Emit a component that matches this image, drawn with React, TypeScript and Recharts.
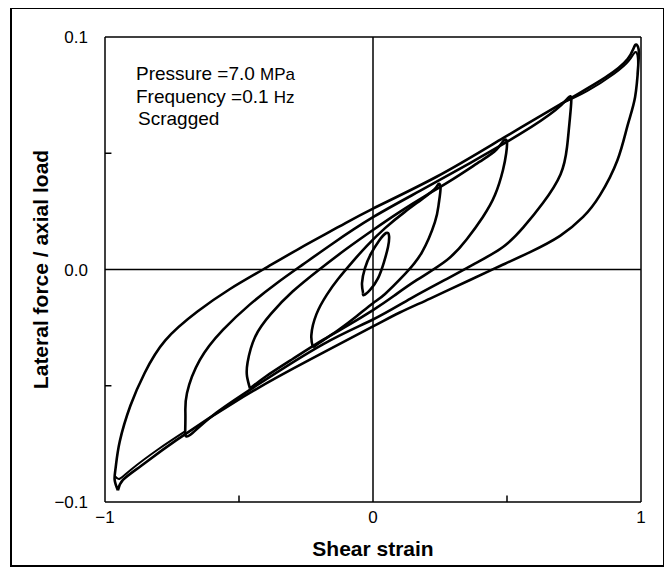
import React from "react";
import {
  LineChart,
  Line,
  XAxis,
  YAxis,
  ReferenceLine,
} from "recharts";

// hysteresis loops, [shear strain, lateral force / axial load]
const loop100: [number, number][] = [
  [-0.952, -0.095], [-0.964, -0.0905], [-0.96, -0.085], [-0.945, -0.074],
  [-0.905, -0.0585], [-0.852, -0.0445], [-0.775, -0.0305], [-0.655, -0.0181],
  [-0.535, -0.0085], [-0.41, 0.0], [-0.272, 0.0092], [-0.125, 0.0185],
  [0.0, 0.0262], [0.239, 0.04], [0.485, 0.0565], [0.735, 0.0735],
  [0.866, 0.0825], [0.95, 0.0905], [0.978, 0.0965], [0.991, 0.0948],
  [0.99, 0.088], [0.978, 0.0742], [0.95, 0.062], [0.912, 0.047],
  [0.847, 0.032], [0.784, 0.0226], [0.698, 0.0145], [0.586, 0.0075],
  [0.474, 0.0015], [0.362, -0.0045], [0.213, -0.0125], [0.1, -0.0185],
  [0.0, -0.0245], [-0.239, -0.039], [-0.485, -0.0548], [-0.735, -0.0735],
  [-0.866, -0.0845], [-0.933, -0.0905], [-0.952, -0.095],
];

// second cycle of the largest loop, seen near both tips
const loop100TopRepeat: [number, number][] = [
  [0.7, 0.0712], [0.8, 0.0768], [0.9, 0.0842], [0.955, 0.0898],
  [0.978, 0.0935], [0.988, 0.091], [0.988, 0.084],
];
const loop100BottomRepeat: [number, number][] = [
  [-0.7, -0.0695], [-0.8, -0.0772], [-0.9, -0.0858], [-0.945, -0.09],
  [-0.962, -0.089],
];

const loop75: [number, number][] = [
  [-0.701, -0.0708], [-0.7, -0.062], [-0.694, -0.0531], [-0.646, -0.0389],
  [-0.56, -0.026], [-0.459, -0.015], [-0.358, -0.0058], [-0.261, 0.0022],
  [-0.15, 0.0112], [0.0, 0.0225], [0.175, 0.0338], [0.362, 0.0458],
  [0.549, 0.0583], [0.68, 0.0685], [0.728, 0.0738], [0.74, 0.073],
  [0.733, 0.063], [0.724, 0.0527], [0.7, 0.041], [0.634, 0.0286],
  [0.56, 0.018], [0.485, 0.0097], [0.38, 0.0025], [0.276, -0.004],
  [0.14, -0.0125], [0.0, -0.0215], [-0.187, -0.0322], [-0.433, -0.0498],
  [-0.6, -0.063], [-0.683, -0.0712], [-0.701, -0.0708],
];

const loop50: [number, number][] = [
  [-0.459, -0.0512], [-0.47, -0.046], [-0.468, -0.04], [-0.44, -0.029],
  [-0.38, -0.019], [-0.3, -0.0095], [-0.2, 0.0], [-0.1, 0.0088],
  [0.0, 0.017], [0.1, 0.0248], [0.2, 0.032], [0.3, 0.039],
  [0.4, 0.0465], [0.46, 0.0515], [0.49, 0.0557], [0.5, 0.0545],
  [0.497, 0.05], [0.485, 0.0428], [0.455, 0.032], [0.41, 0.0226],
  [0.35, 0.013], [0.276, 0.0041], [0.164, -0.0045], [0.08, -0.0112],
  [0.0, -0.0175], [-0.1, -0.0245], [-0.187, -0.0303], [-0.3, -0.0385],
  [-0.4, -0.046], [-0.459, -0.0512],
];

const loop25: [number, number][] = [
  [-0.224, -0.0335], [-0.23, -0.0282], [-0.211, -0.0192], [-0.172, -0.0108],
  [-0.131, -0.0042], [-0.075, 0.0035], [-0.022, 0.0103], [0.045, 0.0178],
  [0.119, 0.0248], [0.194, 0.0312], [0.235, 0.0352], [0.245, 0.0368],
  [0.252, 0.035], [0.245, 0.028], [0.231, 0.0204], [0.183, 0.0075],
  [0.119, -0.002], [0.045, -0.0105], [0.0, -0.0145], [-0.06, -0.02],
  [-0.123, -0.0255], [-0.18, -0.03], [-0.224, -0.0335],
];

const loop05: [number, number][] = [
  [-0.037, -0.0101], [-0.041, -0.0058], [-0.03, 0.0006], [-0.008, 0.0067],
  [0.022, 0.0123], [0.049, 0.0157], [0.06, 0.0144], [0.056, 0.0097],
  [0.041, 0.0032], [0.019, -0.0037], [-0.011, -0.0088], [-0.034, -0.011],
  [-0.037, -0.0101],
];

const loops = [
  loop100,
  loop100TopRepeat,
  loop100BottomRepeat,
  loop75,
  loop50,
  loop25,
  loop05,
];

const xTicks = [-1, -0.5, 0, 0.5, 1];
const xTickLabels = ["\u22121", "", "0", "", "1"];
const yTicks = [-0.1, -0.05, 0, 0.05, 0.1];
const yTickLabels = ["\u22120.1", "", "0.0", "", "0.1"];

const font = '"Liberation Sans", Arial, Helvetica, sans-serif';

export default function App() {
  return (
    <div
      style={{
        position: "relative",
        width: 651,
        height: 556,
        border: "2px solid #000",
        marginLeft: 2,
        marginTop: -1,
        fontFamily: font,
        background: "#fff",
      }}
    >
      <LineChart
        width={651}
        height={556}
        margin={{ top: 28, right: 22, left: 0, bottom: 0 }}
      >
        <XAxis
          type="number"
          dataKey="x"
          domain={[-1, 1]}
          ticks={xTicks}
          tickFormatter={(v: number) => xTickLabels[xTicks.indexOf(v)] ?? ""}
          tickLine={false}
          tickSize={0}
          tickMargin={9}
          height={63}
          stroke="#000"
          strokeWidth={1.5}
          tick={{ fill: "#000", fontSize: 17, fontFamily: font }}
          label={{
            value: "Shear strain",
            position: "center",
            dy: 15,
            style: { fontSize: 21, fontWeight: "bold", fill: "#000", fontFamily: font },
          }}
        />
        <YAxis
          type="number"
          dataKey="y"
          domain={[-0.1, 0.1]}
          ticks={yTicks}
          tickFormatter={(v: number) => yTickLabels[yTicks.indexOf(v)] ?? ""}
          tickLine={false}
          tickSize={0}
          tickMargin={17}
          width={93}
          stroke="#000"
          strokeWidth={1.5}
          tick={{ fill: "#000", fontSize: 17, fontFamily: font }}
          label={{
            value: "Lateral force / axial load",
            angle: -90,
            position: "center",
            dx: -18,
            style: { fontSize: 21, fontWeight: "bold", fill: "#000", fontFamily: font, textAnchor: "middle" },
          }}
        />
        <ReferenceLine y={0.1} stroke="#000" strokeWidth={1.5} />
        <ReferenceLine x={1} stroke="#000" strokeWidth={1.5} />
        <ReferenceLine y={0} stroke="#000" strokeWidth={1.5} />
        <ReferenceLine x={0} stroke="#000" strokeWidth={1.5} />
        <ReferenceLine
          segment={[{ x: -0.5, y: -0.1 }, { x: -0.5, y: -0.0972 }]}
          stroke="#000"
          strokeWidth={1.5}
        />
        <ReferenceLine
          segment={[{ x: 0.5, y: -0.1 }, { x: 0.5, y: -0.0972 }]}
          stroke="#000"
          strokeWidth={1.5}
        />
        <ReferenceLine
          segment={[{ x: -1, y: -0.05 }, { x: -0.976, y: -0.05 }]}
          stroke="#000"
          strokeWidth={1.5}
        />
        <ReferenceLine
          segment={[{ x: -1, y: 0.05 }, { x: -0.976, y: 0.05 }]}
          stroke="#000"
          strokeWidth={1.5}
        />
        {loops.map((loop, i) => (
          <Line
            key={i}
            data={loop.map(([x, y]) => ({ x, y }))}
            dataKey="y"
            type="natural"
            stroke="#000"
            strokeWidth={i === 1 || i === 2 ? 2 : 2.6}
            dot={false}
            activeDot={false}
            isAnimationActive={false}
          />
        ))}
      </LineChart>
      <div
        style={{
          position: "absolute",
          left: 124,
          top: 54,
          fontSize: 19,
          lineHeight: "21.5px",
          color: "#000",
        }}
      >
        <div>
          Pressure =7.0 <span style={{ fontSize: 17 }}>MPa</span>
        </div>
        <div>
          Frequency =0.1 <span style={{ fontSize: 17 }}>Hz</span>
        </div>
        <div style={{ marginLeft: 2 }}>Scragged</div>
      </div>
    </div>
  );
}
